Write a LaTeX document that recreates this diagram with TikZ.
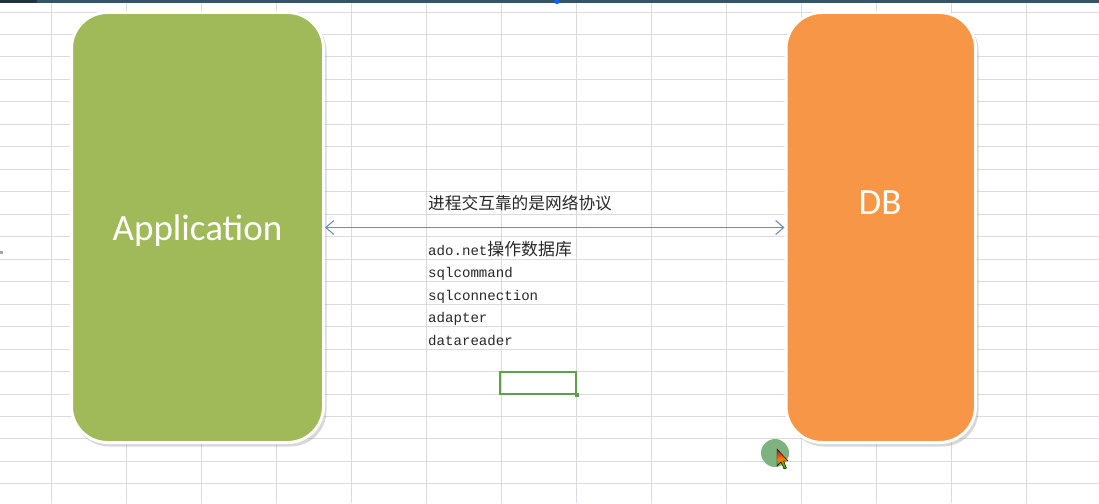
\documentclass[tikz,border=0pt]{standalone}
\usepackage{fontspec}
\setmainfont{Carlito}
\newfontfamily\cjk{Noto Sans CJK SC}
\newfontfamily\monof{Liberation Mono}
\usetikzlibrary{arrows.meta}
\definecolor{appgreen}{RGB}{160,186,90}
\definecolor{dborange}{RGB}{247,150,70}
\definecolor{gridc}{RGB}{218,218,224}
\definecolor{arrowc}{RGB}{108,142,194}
\definecolor{selc}{RGB}{96,160,72}
\definecolor{topbar}{RGB}{52,84,104}
\definecolor{txtc}{RGB}{40,40,40}
\definecolor{cursorc}{RGB}{126,178,126}
\tikzset{
  gridline/.style={draw=gridc, line width=0.9pt},
  shapebox/.style={rectangle, rounded corners=36pt, draw=white, line width=3pt, inner sep=0pt, minimum height=430pt},
  shapeshadow/.style={fill=gray, opacity=0.30, rounded corners=36pt},
  bigtext/.style={text=white, font=\fontsize{37}{40}\selectfont},
  cjktext/.style={anchor=base west, inner sep=0pt, text=txtc, font=\cjk\fontsize{16.7}{20}\selectfont},
  monotext/.style={anchor=base west, inner sep=0pt, text=txtc, font=\monof\fontsize{14.1}{20}\selectfont},
  arr/.style={draw=arrowc, line width=1.1pt, {Straight Barb[length=8pt,width=14pt]}-{Straight Barb[length=8pt,width=14pt]}},
  selbox/.style={draw=selc, line width=2pt, inner sep=0pt, minimum width=76pt, minimum height=22.5pt}
}
\begin{document}
\begin{tikzpicture}[x=1pt,y=-1pt]
\useasboundingbox (0,0) rectangle (1099,503);
\fill[white] (0,0) rectangle (1099,503);
% spreadsheet grid
\foreach \x in {51,126,...,1026} \draw[gridline] (\x,3) -- (\x,503);
\foreach \k in {0,...,21} \draw[gridline] (0,{12+22.47*\k}) -- (1099,{12+22.47*\k});
% top bar
\fill[topbar] (0,0) rectangle (1099,3);
\fill[topbar!60!black] (0,0) rectangle (37,3);
\fill[blue!60!cyan] (557,1.5) circle (2.6);
\fill[gray!70] (0,250.5) rectangle (3,254);
% shadows
\fill[shapeshadow] (73,15) rectangle (326.5,446.5);
\fill[shapeshadow] (788,15) rectangle (978.5,446.5);
% shapes
\node[shapebox, fill=appgreen, minimum width=252pt, bigtext] (app) at (197.5,227.5) {\raisebox{0pt}[\dimexpr\height+6pt\relax]{Application}};
\node[shapebox, fill=dborange, minimum width=189.5pt] (db) at (880.75,227.5) {};
\node[bigtext, inner sep=0pt] (dblabel) at (880,203) {DB};
% connector
\draw[arr] (app.east) -- (db.west);
% texts
\node[cjktext] (proto) at (428,209) {进程交互靠的是网络协议};
\node[monotext] (l1) at (428,255) {ado.net{\cjk\fontsize{16.9}{20}\selectfont 操作数据库}};
\node[monotext] (l2) at (428,277.5) {sqlcommand};
\node[monotext] (l3) at (428,300) {sqlconnection};
\node[monotext] (l4) at (428,322.5) {adapter};
\node[monotext] (l5) at (428,345) {datareader};
% selected cell
\node[selbox] (sel) at (538,383) {};
\fill[selc] ([shift={(-2,-2)}]sel.south east) rectangle ++(4,4);
% mouse cursor
\fill[cursorc] (775,453) circle (14);
\path[draw=black, line width=0.4pt, top color=purple, bottom color=green!70!black, middle color=orange]
  (777,449) -- (777,466) -- (781,462) -- (784,469) -- (786.5,468) -- (783.5,461) -- (788,461) -- cycle;
\end{tikzpicture}
\end{document}
